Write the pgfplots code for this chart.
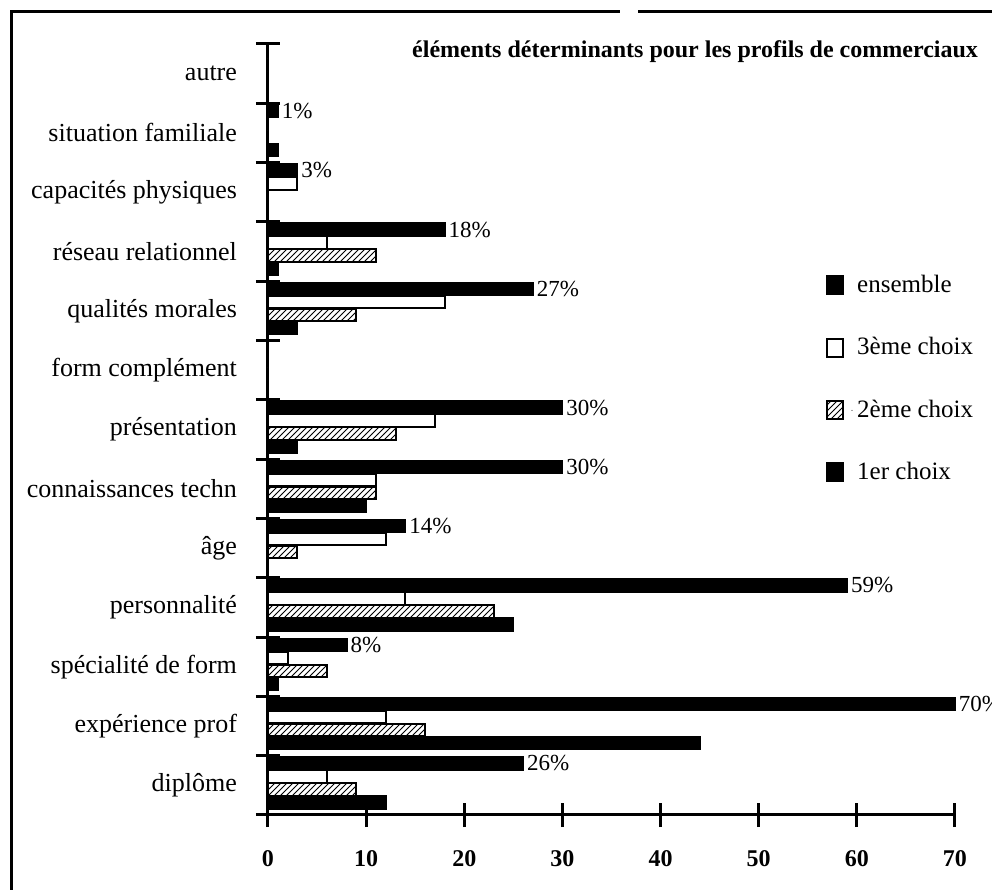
\documentclass[border=0pt]{standalone}
\usepackage{fontspec}
\setmainfont{Liberation Serif}
\usepackage{pgfplots}
\pgfplotsset{compat=1.18}
\usepackage{pgfplotstable}
\usetikzlibrary{patterns}

\pgfplotstableread{
idx ens tro deu pre
0 26 6 9 12
1 70 12 16 44
2 8 2 6 1
3 59 14 23 25
4 14 12 3 0
5 30 11 11 10
6 30 17 13 3
7 0 0 0 0
8 27 18 9 3
9 18 6 11 1
10 3 3 0 0
11 1 0 0 1
12 0 0 0 0
}\data

\pgfplotsset{
  sq/.style={legend image code/.code={\draw[##1,line width=1pt] (0pt,-4.5pt) rectangle (8pt,4.5pt); \path[draw=none,fill=none] (12.5pt,0pt) -- (12.5pt,0.01pt);}},
}

\begin{document}
\begin{tikzpicture}
\useasboundingbox (0,0) rectangle (496pt,445pt);
\draw[line width=1.5pt] (5.5pt,-2pt) -- (5.5pt,439pt) -- (310pt,439pt);
\draw[line width=1.5pt] (319pt,439pt) -- (500pt,439pt);
\node[anchor=east, font=\fontsize{12}{14}\selectfont\bfseries] at (492.5pt,419pt) {éléments déterminants pour les profils de commerciaux};
\begin{axis}[
  at={(134pt,37.5pt)}, anchor=south west,
  scale only axis, width=343.5pt, height=385.5pt,
  xmin=0, xmax=70, ymin=0, ymax=13,
  clip=false,
  axis lines*=left,
  axis line style={line width=1.5pt},
  xtick={0,10,...,70},
  ytick={0,...,13}, yticklabels={},
  extra y ticks={0.5,1.5,...,12.5},
  extra y tick labels={diplôme,expérience prof,spécialité de form,personnalité,âge,connaissances techn,présentation,form complément,qualités morales,réseau relationnel,capacités physiques,situation familiale,autre},
  extra y tick style={major tick length=0pt, yticklabel style={xshift=-12pt}},
  tick align=center, major tick length=12pt,
  tick style={line width=1.5pt, black},
  xticklabel style={font=\fontsize{12}{14}\selectfont\bfseries, yshift=-8pt},
  yticklabel style={font=\fontsize{13}{15}\selectfont},
  /pgf/number format/assume math mode=true,
  legend style={at={(rel axis cs:0.812,0.706)}, anchor=north west, draw=none, fill=none,
    font=\fontsize{12.5}{14}\selectfont, row sep=17pt, inner sep=0pt,
    cells={anchor=west}},
  legend cell align=left,
]
\addplot[xbar, bar shift=0pt, bar width=0.21, draw=black, fill=black, line width=1pt, sq,
  point meta=explicit,
  nodes near coords={\pgfmathfloatifflags{\pgfplotspointmeta}{0}{}{\pgfmathprintnumber{\pgfplotspointmeta}\%}},
  nodes near coords style={font=\fontsize{11.5}{13}\selectfont, inner sep=1.5pt, anchor=west}]
  table[x=ens, y expr=\thisrow{idx}+0.87, meta=ens] \data;
\addlegendentry{ensemble}
\addplot[xbar, bar shift=0pt, bar width=0.21, draw=black, fill=white, line width=1pt, sq]
  table[x=tro, y expr=\thisrow{idx}+0.65] \data;
\addlegendentry{3ème choix}
\addplot[xbar, bar shift=0pt, bar width=0.21, draw=black, fill=white, line width=1pt, sq,
  postaction={pattern=north east lines}]
  table[x=deu, y expr=\thisrow{idx}+0.43] \data;
\addlegendentry{2ème choix}
\addplot[xbar, bar shift=0pt, bar width=0.21, draw=black, fill=black, line width=1pt, sq]
  table[x=pre, y expr=\thisrow{idx}+0.21] \data;
\addlegendentry{1er choix}
\end{axis}
\end{tikzpicture}
\end{document}
